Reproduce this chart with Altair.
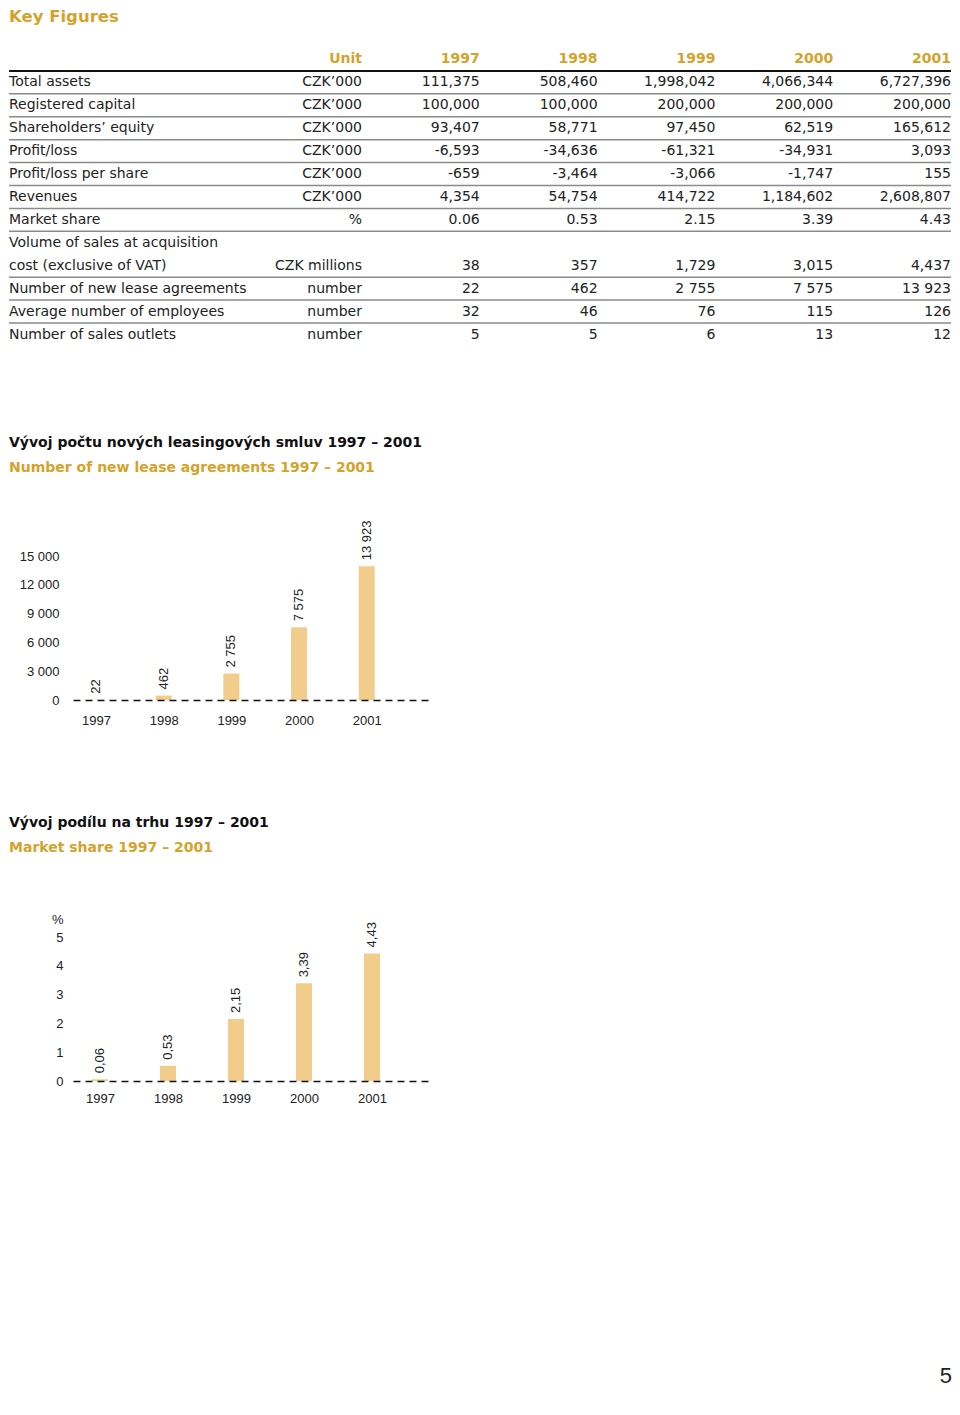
import altair as alt
import pandas as pd

GOLD = "#D4A32C"
BAR = "#F2CC8B"
TEXT = "#222222"
FONT_T = "DejaVu Sans"
FONT_C = "Liberation Sans"

# ---------------- table data ----------------
columns = ["Unit", "1997", "1998", "1999", "2000", "2001"]
row_labels = [
    "Total assets",
    "Registered capital",
    "Shareholders’ equity",
    "Profit/loss",
    "Profit/loss per share",
    "Revenues",
    "Market share",
    "Volume of sales at acquisition\ncost (exclusive of VAT)",
    "Number of new lease agreements",
    "Average number of employees",
    "Number of sales outlets",
]
units = ["CZK’000", "CZK’000", "CZK’000", "CZK’000", "CZK’000", "CZK’000", "%",
         "CZK millions", "number", "number", "number"]
v1997 = ["111,375", "100,000", "93,407", "-6,593", "-659", "4,354", "0.06", "38", "22", "32", "5"]
v1998 = ["508,460", "100,000", "58,771", "-34,636", "-3,464", "54,754", "0.53", "357", "462", "46", "5"]
v1999 = ["1,998,042", "200,000", "97,450", "-61,321", "-3,066", "414,722", "2.15", "1,729", "2 755", "76", "6"]
v2000 = ["4,066,344", "200,000", "62,519", "-34,931", "-1,747", "1,184,602", "3.39", "3,015", "7 575", "115", "13"]
v2001 = ["6,727,396", "200,000", "165,612", "3,093", "155", "2,608,807", "4.43", "4,437", "13 923", "126", "12"]

# ---------------- chart data ----------------
years = [1997, 1998, 1999, 2000, 2001]
lease = [22, 462, 2755, 7575, 13923]
share = [0.06, 0.53, 2.15, 3.39, 4.43]

# ---------------- build table ----------------
header_cells = [{"line": 0, "ci": i, "text": c} for i, c in enumerate(columns)]
label_rows, value_cells, rules = [], [], []
line = 1
for i, lab in enumerate(row_labels):
    parts = lab.split("\n")
    for p in parts[:-1]:
        label_rows.append({"line": line, "text": p})
        line += 1
    label_rows.append({"line": line, "text": parts[-1]})
    vals = [units[i], v1997[i], v1998[i], v1999[i], v2000[i], v2001[i]]
    for ci, v in enumerate(vals):
        value_cells.append({"line": line, "ci": ci, "text": v})
    if i < len(row_labels) - 1:
        rules.append({"line": line})
    line += 1
n_lines = line

# all panels share the same plot origin; the table's label column sits in the left margin
LEFT = 64
ROW_H = 22.92
TABLE_W = 878
yscale = alt.Scale(type="band", domain=list(range(n_lines)), paddingInner=0, paddingOuter=0)
# column index -> right edge of the column (uniform column step)
xscale = alt.Scale(domain=[-2.453, len(columns) - 1], nice=False, zero=False, padding=0)

ycell = alt.Y("line:O", scale=yscale, axis=None)
xcell = alt.X("ci:Q", scale=xscale, axis=None)
yrule = alt.Y("line:O", scale=yscale, axis=None, bandPosition=1)

t_labels = alt.Chart(pd.DataFrame(label_rows)).mark_text(
    align="left", baseline="middle", font=FONT_T, fontSize=14, color=TEXT
).encode(x=alt.value(-LEFT), y=ycell, text="text:N")

t_values = alt.Chart(pd.DataFrame(value_cells)).mark_text(
    align="right", baseline="middle", font=FONT_T, fontSize=14, color=TEXT
).encode(x=xcell, y=ycell, text="text:N")

t_header = alt.Chart(pd.DataFrame(header_cells)).mark_text(
    align="right", baseline="middle", font=FONT_T, fontSize=14, fontWeight="bold", color=GOLD
).encode(x=xcell, y=ycell, text="text:N")

t_head_rule = alt.Chart(pd.DataFrame({"line": [0]})).mark_rule(
    color="#111111", strokeWidth=2
).encode(x=alt.value(-LEFT), x2=alt.value(TABLE_W), y=yrule)

t_rules = alt.Chart(pd.DataFrame(rules)).mark_rule(
    color="#8a8a8a", strokeWidth=1.5
).encode(x=alt.value(-LEFT), x2=alt.value(TABLE_W), y=yrule)

table = alt.layer(t_head_rule, t_rules, t_labels, t_values, t_header).properties(
    width=TABLE_W,
    height=ROW_H * n_lines,
    title=alt.TitleParams(
        "Key Figures", anchor="start", frame="group", dx=-LEFT, font=FONT_T, fontSize=16.5,
        fontWeight="bold", color=GOLD, offset=23,
    ),
)


def bar_chart(values, ydom, yticks, ylabel_expr, text_expr, xdom, width, title, subtitle,
              title_offset, label_pad, x_pad, ytitle=None):
    df = pd.DataFrame({"year": years, "value": values})
    axis_kw = dict(ticks=False, grid=False, labelFont=FONT_C, labelOverlap=False,
                   labelFontSize=13, labelColor=TEXT)
    x = alt.X(
        "year:Q",
        scale=alt.Scale(domain=xdom, nice=False, zero=False, padding=0),
        axis=alt.Axis(values=years, format="d", labelPadding=x_pad, title=None,
                      domain=True, domainDash=[7, 5], domainColor="#111111",
                      domainWidth=1.3, zindex=1, **axis_kw),
    )
    yaxis = dict(values=yticks, labelExpr=ylabel_expr, labelPadding=label_pad, domain=False,
                 **axis_kw)
    if ytitle:
        yaxis.update(title=ytitle, titleAngle=0, titleAlign="right", titleBaseline="middle",
                     titleX=-label_pad, titleY=-18, titleFont=FONT_C, titleFontSize=13,
                     titleFontWeight="normal", titleColor=TEXT)
    else:
        yaxis.update(title=None)
    y = alt.Y("value:Q", scale=alt.Scale(domain=ydom, nice=False, zero=True), axis=alt.Axis(**yaxis))
    bars = alt.Chart(df).mark_bar(size=16, color=BAR).encode(x=x, y=y)
    labels = alt.Chart(df).transform_calculate(label=text_expr).mark_text(
        angle=270, align="left", baseline="middle", dx=6, font=FONT_C, fontSize=13, color=TEXT
    ).encode(x=x, y=y, text="label:N")
    return alt.layer(bars, labels).properties(
        width=width,
        height=144,
        title=alt.TitleParams(
            title, subtitle=subtitle, anchor="start", frame="group", dx=-LEFT,
            font=FONT_T, fontSize=14, fontWeight="bold", color="#111111",
            subtitleFont=FONT_T, subtitleFontSize=14, subtitleFontWeight="bold",
            subtitleColor=GOLD, subtitlePadding=11, offset=title_offset,
        ),
    )


chart1 = bar_chart(
    lease, [0, 15000], [0, 3000, 6000, 9000, 12000, 15000],
    "replace(format(datum.value, ','), ',', ' ')",
    "replace(format(datum.value, ','), ',', ' ')",
    [1996.66, 2001.95], 358,
    "Vývoj počtu nových leasingových smluv 1997 – 2001",
    "Number of new lease agreements 1997 – 2001",
    46, 14, 14,
)

chart2 = bar_chart(
    share, [0, 5], [0, 1, 2, 3, 4, 5],
    "format(datum.value, 'd')",
    "replace(format(datum.value, '.2f'), '.', ',')",
    [1996.603, 2001.897], 360,
    "Vývoj podílu na trhu 1997 – 2001",
    "Market share 1997 – 2001",
    58, 10, 11, ytitle="%",
)

chart = alt.concat(table, chart1, chart2, columns=1, spacing=89).properties(
    padding=0,
    title=alt.TitleParams("5", orient="bottom", anchor="end", font="Liberation Sans",
                          fontSize=22, fontWeight="normal", color=TEXT, offset=261),
).configure_view(stroke=None).configure_axis(labelOverlap=False)

chart.save("out.html", embed_options={"renderer": "svg", "actions": False})
